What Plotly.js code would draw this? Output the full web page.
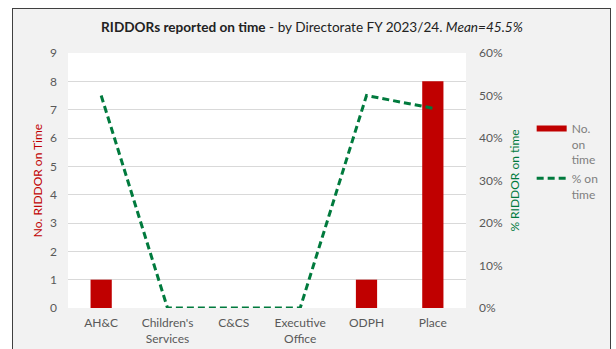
<!DOCTYPE html>
<html>
<head>
<meta charset="utf-8">
<script src="https://cdn.plot.ly/plotly-3.0.1.min.js"></script>
<style>
  html, body { margin: 0; padding: 0; background: #ffffff; }
  #wrap { position: relative; width: 616px; height: 349px; overflow: hidden; }
  #frame { position: absolute; left: 12px; top: 8px; width: 599px; height: 345px;
           border: 1.5px solid #404040; background: #f2f2f2; box-sizing: border-box; }
  #chart { position: absolute; left: 0; top: 0; width: 616px; height: 349px; }
</style>
</head>
<body>
<div id="wrap">
  <div id="frame"></div>
  <div id="chart"></div>
</div>
<script>
// Data
const categories = ["AH&C", "Children's<br>Services", "C&CS", "Executive<br>Office", "ODPH", "Place"];
const numberOnTime = [1, 0, 0, 0, 1, 8];
const percentOnTime = [0.50, 0, 0, 0, 0.50, 0.47];
const leftTicks = [0, 1, 2, 3, 4, 5, 6, 7, 8, 9];
const rightTicks = [0, 0.1, 0.2, 0.3, 0.4, 0.5, 0.6];
const rightTickLabels = ["0%", "10%", "20%", "30%", "40%", "50%", "60%"];

const FONT = "Lato, 'Open Sans', sans-serif";
const RED = "#c00000";
const GREEN = "#007a3d";
const GREY = "#595959";

const traces = [
  {
    type: "bar", x: categories, y: numberOnTime, name: "No.<br>on<br>time",
    marker: { color: RED }, showlegend: false, yaxis: "y", hoverinfo: "skip"
  },
  {
    type: "scatter", mode: "lines", x: categories, y: percentOnTime, name: "% on<br>time",
    line: { color: GREEN, width: 3, dash: "7px,4px" }, yaxis: "y2", showlegend: false
  },
  // legend-only entries, styled like the reference legend keys
  {
    type: "scatter", mode: "lines", x: [categories[0]], y: [null], name: "No.<br>on<br>time",
    line: { color: RED, width: 6 }, yaxis: "y", legendrank: 1
  },
  {
    type: "scatter", mode: "lines", x: [categories[0]], y: [null], name: "% on<br>time",
    line: { color: GREEN, width: 3, dash: "7px,4px" }, yaxis: "y2", legendrank: 2
  }
];

const layout = {
  width: 616, height: 349,
  margin: { l: 68, r: 146, t: 53, b: 41 },
  paper_bgcolor: "rgba(0,0,0,0)",
  plot_bgcolor: "#ffffff",
  font: { family: FONT, size: 12, color: GREY },
  bargap: 0.68,
  title: {
    text: "<b>RIDDORs reported on time</b> - by Directorate FY 2023/24. <i>Mean=45.5%</i>",
    font: { family: FONT, size: 13.6, color: "#222222" },
    x: 312 / 616, xanchor: "center", xref: "container",
    y: 1 - 27 / 349, yanchor: "middle", yref: "container"
  },
  xaxis: {
    type: "category",
    showgrid: false, zeroline: false, showline: false, ticks: "",
    ticklabelstandoff: 6,
    tickfont: { family: FONT, size: 12, color: GREY },
    fixedrange: true
  },
  yaxis: {
    range: [0, 9], tickvals: leftTicks,
    showgrid: true, gridcolor: "#d9d9d9", gridwidth: 1,
    zeroline: false, showline: false, ticks: "",
    ticklabelstandoff: 10,
    tickfont: { family: FONT, size: 12, color: GREY },
    title: { text: "No. RIDDOR on Time", font: { family: FONT, size: 12, color: RED }, standoff: 4 }
  },
  yaxis2: {
    range: [0, 0.6], tickvals: rightTicks, ticktext: rightTickLabels,
    overlaying: "y", side: "right",
    showgrid: false, zeroline: false, showline: false, ticks: "",
    ticklabelstandoff: 12,
    tickfont: { family: FONT, size: 12, color: GREY },
    title: { text: "% RIDDOR on time", font: { family: FONT, size: 12, color: GREEN }, standoff: 8 }
  },
  showlegend: true,
  legend: {
    x: 1.165, xanchor: "left", y: 0.76, yanchor: "top",
    bgcolor: "rgba(0,0,0,0)",
    font: { family: FONT, size: 12, color: "#7f7f7f" },
    itemwidth: 30, tracegroupgap: 4, valign: "top",
    traceorder: "normal"
  }
};

Plotly.newPlot("chart", traces, layout, { displayModeBar: false, staticPlot: true });
</script>
</body>
</html>
